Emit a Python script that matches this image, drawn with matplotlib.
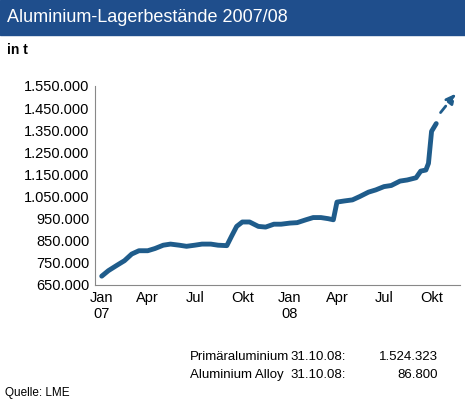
import matplotlib
matplotlib.use("Agg")
import matplotlib.pyplot as plt
import pandas as pd

dates = pd.to_datetime([
 "2007-01-02","2007-01-15","2007-02-01","2007-02-15","2007-03-01","2007-03-15","2007-04-01","2007-04-15",
 "2007-05-01","2007-05-15","2007-06-01","2007-06-15","2007-07-01","2007-07-15","2007-08-01","2007-08-15",
 "2007-09-01","2007-09-10","2007-09-20","2007-10-01","2007-10-15","2007-11-01","2007-11-15","2007-12-01",
 "2007-12-15","2008-01-01","2008-01-15","2008-02-01","2008-02-15","2008-03-01","2008-03-15","2008-03-25",
 "2008-04-01","2008-04-15","2008-05-01","2008-05-15","2008-06-01","2008-06-15","2008-07-01","2008-07-15",
 "2008-08-01","2008-08-15","2008-09-01","2008-09-10","2008-09-20","2008-09-25","2008-10-01","2008-10-10"])
values = [
 690000,715000,740000,760000,790000,805000,805000,815000,
 830000,835000,830000,825000,830000,835000,835000,830000,
 828000,870000,915000,935000,935000,915000,912000,925000,
 925000,930000,932000,945000,955000,955000,950000,945000,
 1025000,1030000,1035000,1050000,1070000,1080000,1095000,1100000,
 1120000,1125000,1135000,1165000,1170000,1200000,1345000,1380000]
yticks = list(range(650000, 1550001, 100000))
xtick_dates = pd.to_datetime(["2007-01-01","2007-04-01","2007-07-01","2007-10-01",
                              "2008-01-01","2008-04-01","2008-07-01","2008-10-01"])
xtick_labels = ["Jan\n07","Apr","Jul","Okt","Jan\n08","Apr","Jul","Okt"]

def de(v):
    return f"{v:,.0f}".replace(",", ".")

F = "Liberation Sans"
fig = plt.figure(figsize=(4.65, 4.08), dpi=100)
fig.patches.append(plt.Rectangle((0, 1 - 35/408), 1, 35/408, transform=fig.transFigure,
                                 color="#1f4e8c", zorder=0))
fig.text(0.015, 1 - 17/408, "Aluminium-Lagerbestände 2007/08", color="white",
         fontsize=13, va="center", family=F)
fig.text(0.015, 1 - 50/408, "in t", fontsize=10, fontweight="bold", va="center", family=F)

ax = fig.add_axes([95/465, 1 - 285/408, 365/465, 199/408])
ax.plot(dates, values, color="#1f5c8b", lw=3.5, solid_capstyle="round")
ax.set_ylim(650000, 1550000)
ax.set_xlim(pd.Timestamp("2006-12-20"), pd.Timestamp("2008-11-25"))
ax.set_yticks(yticks)
ax.set_yticklabels([de(v) for v in yticks], fontsize=10.5, family=F)
ax.set_xticks(xtick_dates)
ax.set_xticklabels(xtick_labels, fontsize=10.5, family=F)
for s in ["top", "right"]:
    ax.spines[s].set_visible(False)
for s in ["left", "bottom"]:
    ax.spines[s].set_color("#888888")
ax.tick_params(length=0, pad=4)
ax.annotate("", xy=(pd.Timestamp("2008-11-20"), 1525000), xytext=(pd.Timestamp("2008-10-15"), 1420000),
            arrowprops=dict(arrowstyle="-|>", color="#1f5c8b", lw=2, linestyle=(0, (3, 2)),
                            mutation_scale=14), annotation_clip=False)

fs = 9.5
fig.text(190/465, 1 - 357/408, "Primäraluminium", fontsize=fs, va="center", family=F)
fig.text(290/465, 1 - 357/408, "31.10.08:", fontsize=fs, va="center", family=F)
fig.text(438/465, 1 - 357/408, "1.524.323", fontsize=fs, va="center", ha="right", family=F)
fig.text(190/465, 1 - 375/408, "Aluminium Alloy", fontsize=fs, va="center", family=F)
fig.text(290/465, 1 - 375/408, "31.10.08:", fontsize=fs, va="center", family=F)
fig.text(438/465, 1 - 375/408, "86.800", fontsize=fs, va="center", ha="right", family=F)
fig.text(0.01, 1 - 393/408, "Quelle: LME", fontsize=8.5, va="center", family=F)

fig.savefig("out.png", dpi=100)
